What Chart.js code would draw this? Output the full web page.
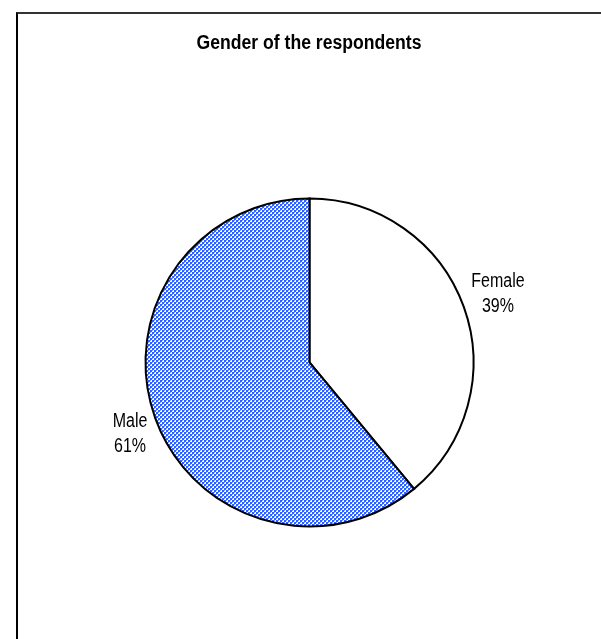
<!DOCTYPE html>
<html>
<head>
<meta charset="utf-8">
<script src="https://cdn.jsdelivr.net/npm/chart.js@4/dist/chart.umd.min.js"></script>
<style>
  html, body { margin: 0; padding: 0; background: #fff; }
  #wrap { position: relative; width: 601px; height: 639px; overflow: hidden; }
  #frame {
    position: absolute; left: 16px; top: 12px; width: 700px; height: 700px;
    border-left: 2px solid #000; border-top: 2px solid #333;
  }
  #genderChart { position: absolute; left: 0; top: 0; }
</style>
</head>
<body>
<div id="wrap">
  <div id="frame"></div>
  <canvas id="genderChart" width="601" height="639"></canvas>
</div>
<script>
const chartTitle = 'Gender of the respondents';
const genders = ['Female', 'Male'];
const shares = [39, 61];

const font = '"Liberation Sans", Arial, sans-serif';

// small blue/white checker tile used for the Male slice
function checkerPattern(ctx) {
  const tile = document.createElement('canvas');
  tile.width = 4;
  tile.height = 4;
  const t = tile.getContext('2d');
  t.fillStyle = '#ffffff';
  t.fillRect(0, 0, 4, 4);
  t.fillStyle = '#2f5fff';
  t.fillRect(0, 0, 2, 2);
  t.fillRect(2, 2, 2, 2);
  t.fillStyle = '#7c9cff';
  t.fillRect(2, 0, 1, 1);
  t.fillRect(0, 2, 1, 1);
  return ctx.createPattern(tile, 'repeat');
}

// condensed text: squeeze glyphs horizontally around the anchor point
function narrowText(ctx, text, x, y, squeeze) {
  ctx.save();
  ctx.translate(x, y);
  ctx.scale(squeeze, 1);
  ctx.fillText(text, 0, 0);
  ctx.restore();
}

// title and "name / percent" labels beside each slice
const labelNudge = [{ dx: 4, dy: -2 }, { dx: 5, dy: 5 }];
const pieText = {
  id: 'pieText',
  afterDatasetsDraw(chart) {
    const ctx = chart.ctx;
    ctx.save();
    ctx.fillStyle = '#000';
    ctx.textAlign = 'center';
    ctx.textBaseline = 'middle';

    ctx.font = 'bold 20px ' + font;
    narrowText(ctx, chartTitle, 309, 43, 0.88);

    ctx.font = '20px ' + font;
    const meta = chart.getDatasetMeta(0);
    meta.data.forEach((arc, i) => {
      const p = arc.getProps(['x', 'y', 'startAngle', 'endAngle', 'outerRadius'], true);
      const mid = (p.startAngle + p.endAngle) / 2;
      const r = p.outerRadius + 32;
      const x = p.x + Math.cos(mid) * r + labelNudge[i].dx;
      const y = p.y + Math.sin(mid) * r + labelNudge[i].dy;
      narrowText(ctx, genders[i], x, y - 12.5, 0.8);
      narrowText(ctx, shares[i] + '%', x, y + 12.5, 0.8);
    });
    ctx.restore();
  }
};

const canvas = document.getElementById('genderChart');
const pattern = checkerPattern(canvas.getContext('2d'));

new Chart(canvas, {
  type: 'pie',
  data: {
    labels: genders,
    datasets: [{
      data: shares,
      backgroundColor: ['#ffffff', pattern],
      borderColor: '#000',
      borderWidth: 2,
      borderJoinStyle: 'miter'
    }]
  },
  options: {
    responsive: false,
    animation: false,
    events: [],
    layout: {
      padding: { left: 144.5, top: 197.5, right: 126.5, bottom: 111.5 }
    },
    plugins: {
      legend: { display: false },
      tooltip: { enabled: false },
      title: { display: false }
    }
  },
  plugins: [pieText]
});
</script>
</body>
</html>
